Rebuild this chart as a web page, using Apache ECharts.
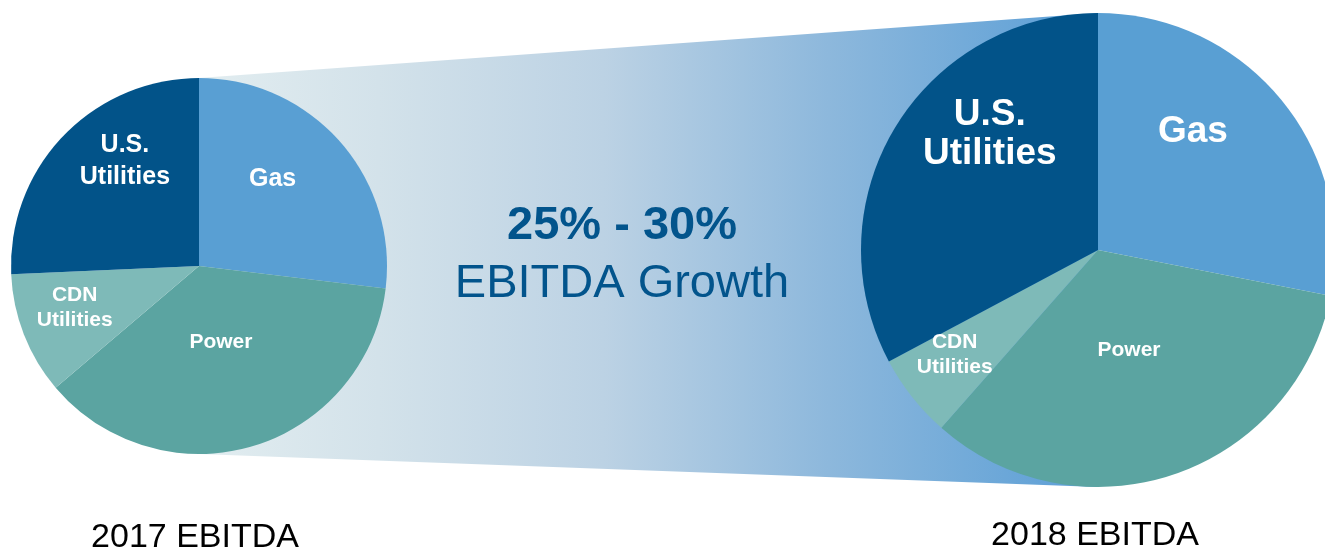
<!DOCTYPE html>
<html>
<head>
<meta charset="utf-8">
<script src="https://cdn.jsdelivr.net/npm/echarts@6/dist/echarts.min.js"></script>
<style>
html,body{margin:0;padding:0;background:#fff;}
#chart{width:1325px;height:550px;}
</style>
</head>
<body>
<div id="chart"></div>
<script>
// ---- data ----
const categories = ['Gas', 'Power', 'CDN Utilities', 'U.S. Utilities'];
const sliceLabels = ['Gas', 'Power', 'CDN\nUtilities', 'U.S.\nUtilities'];
const values2017 = [26.9, 36.9, 10.5, 25.7];
const values2018 = [28.1, 33.4, 5.7, 32.8];
const pieTitles = ['2017 EBITDA', '2018 EBITDA'];
const growthTop = '25% - 30%';
const growthBottom = 'EBITDA Growth';
const colors = ['#599FD3', '#5BA4A1', '#7EBAB8', '#025389'];

// ---- layout / styles ----
const FONT = "'Liberation Sans', Arial, sans-serif";
const pieL = { cx: 199, cy: 266, r: 188 };
const pieR = { cx: 1098, cy: 250, r: 237 };
const fontL = [25, 21, 21, 25];
const fontR = [37, 21, 21, 37];
const lineHL = [32, 25, 25, 32];
const lineHR = [39, 25, 25, 39];
const nudgeL = [[1, -23], [-6, -17], [-34, 6], [-4, -38]];
const nudgeR = [[1, -41], [-8, -15], [-48, 29], [-4, -53]];

function buildData(vals, fonts, lhs) {
  return categories.map((c, i) => ({
    name: c,
    value: vals[i],
    itemStyle: { color: colors[i] },
    label: { fontSize: fonts[i], lineHeight: lhs[i] }
  }));
}

function pieSeries(p, vals, fonts, lhs, nudges) {
  return {
    type: 'pie',
    z: 3,
    center: [p.cx, p.cy],
    radius: [0, p.r],
    startAngle: 90,
    clockwise: true,
    silent: true,
    animation: false,
    itemStyle: { borderWidth: 0 },
    label: {
      show: true,
      position: 'inside',
      color: '#ffffff',
      fontWeight: 'bold',
      fontFamily: FONT,
      align: 'center',
      formatter: (prm) => sliceLabels[prm.dataIndex]
    },
    labelLine: { show: false },
    labelLayout: (prm) => ({ dx: nudges[prm.dataIndex][0], dy: nudges[prm.dataIndex][1] }),
    data: buildData(vals, fonts, lhs)
  };
}

const chart = echarts.init(document.getElementById('chart'));
chart.setOption({
  backgroundColor: '#ffffff',
  animation: false,
  graphic: [
    {
      type: 'polygon',
      z: 0,
      silent: true,
      shape: {
        points: [
          [pieL.cx, pieL.cy - pieL.r],
          [pieR.cx, pieR.cy - pieR.r],
          [pieR.cx, pieR.cy + pieR.r],
          [pieL.cx, pieL.cy + pieL.r]
        ]
      },
      style: {
        fill: new echarts.graphic.LinearGradient(0, 0, 1, 0, [
          { offset: 0, color: '#E2EDF0' },
          { offset: 0.2, color: '#D3E2EA' },
          { offset: 0.45, color: '#BCD2E4' },
          { offset: 0.7, color: '#8DB8DC' },
          { offset: 1, color: '#5A9ED6' }
        ])
      }
    },
    {
      type: 'text', z: 5, silent: true,
      style: { text: growthTop, x: 622, y: 226, textAlign: 'center', textVerticalAlign: 'middle',
        font: "bold 47px " + FONT, fill: '#02548C' }
    },
    {
      type: 'text', z: 5, silent: true,
      style: { text: growthBottom, x: 622, y: 284, textAlign: 'center', textVerticalAlign: 'middle',
        font: "47px " + FONT, fill: '#02548C' }
    },
    {
      type: 'text', z: 5, silent: true,
      style: { text: pieTitles[0], x: 195, y: 538, textAlign: 'center', textVerticalAlign: 'middle',
        font: "34px " + FONT, fill: '#000000' }
    },
    {
      type: 'text', z: 5, silent: true,
      style: { text: pieTitles[1], x: 1095, y: 536, textAlign: 'center', textVerticalAlign: 'middle',
        font: "34px " + FONT, fill: '#000000' }
    }
  ],
  series: [
    pieSeries(pieL, values2017, fontL, lineHL, nudgeL),
    pieSeries(pieR, values2018, fontR, lineHR, nudgeR)
  ]
});
</script>
</body>
</html>
